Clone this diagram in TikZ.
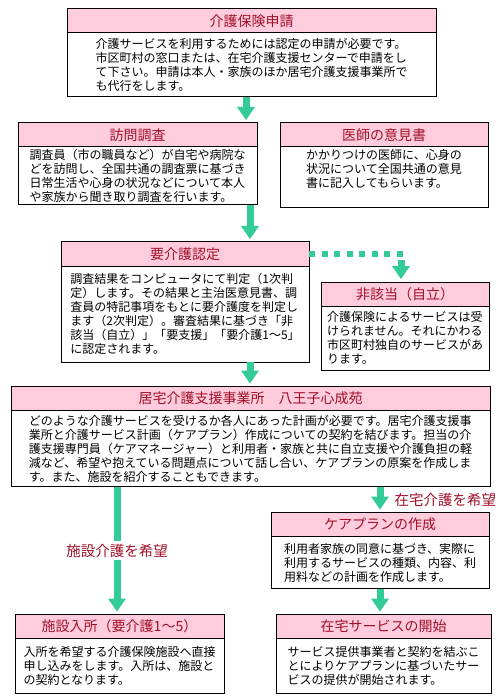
\documentclass[tikz,border=0pt]{standalone}
\usepackage{fontspec}
\setmainfont{Noto Sans CJK JP}
\usetikzlibrary{arrows.meta, positioning}
\definecolor{headpink}{RGB}{255,204,221}
\definecolor{titlered}{RGB}{160,16,40}
\definecolor{flowgreen}{RGB}{51,204,153}
\tikzset{
  boxhead/.style={draw, line width=1pt, fill=headpink, text=titlered,
                  minimum height=24pt, inner sep=0pt, outer sep=0pt,
                  font=\fontsize{14}{16}\selectfont},
  boxbody/.style={draw, line width=1pt, fill=white, align=left,
                  inner sep=2pt, outer sep=0pt,
                  font=\fontsize{12}{14}\selectfont},
  flowarrow/.style={line width=7pt, draw=flowgreen, shorten >=3pt,
                    -{Triangle[width=18pt, length=13pt, line width=0pt]}},
  dotline/.style={line width=6pt, draw=flowgreen, dash pattern=on 6pt off 6.57pt},
  wishlabel/.style={text=titlered, inner sep=0pt, font=\fontsize{14.5}{17}\selectfont},
}

\begin{document}
\begin{tikzpicture}[x=1pt, y=-1pt]

  \fill[white] (0,0) rectangle (500,700);
  \useasboundingbox (0,0) rectangle (500,700);

  % --- Application ---
  \node[boxhead, minimum width=369pt] (hd1) at (251.5,21) {介護保険申請};
  \node[boxbody, minimum width=369pt, minimum height=64pt, below=0pt of hd1]
    (bd1) {介護サービスを利用するためには認定の申請が必要です。\\
           市区町村の窓口または、在宅介護支援センターで申請をし\\
           て下さい。申請は本人・家族のほか居宅介護支援事業所で\\
           も代行をします。};

  % --- Survey and doctor ---
  \node[boxhead, minimum width=239pt] (hd2) at (137.5,135) {訪問調査};
  \node[boxbody, minimum width=239pt, minimum height=58pt, below=0pt of hd2]
    (bd2) {調査員（市の職員など）が自宅や病院な\\
           どを訪問し、全国共通の調査票に基づき\\
           日常生活や心身の状況などについて本人\\
           や家族から聞き取り調査を行います。};
  \node[boxhead, minimum width=208pt] (hd3) at (384,135) {医師の意見書};
  \node[boxbody, minimum width=208pt, minimum height=58pt, below=0pt of hd3]
    (bd3) {かかりつけの医師に、心身の\\
           状況について全国共通の意見\\
           書に記入してもらいます。\\
           \strut};

  % --- Certification ---
  \node[boxhead, minimum width=248pt] (hd4) at (185,254) {要介護認定};
  \node[boxbody, minimum width=248pt, minimum height=96pt, below=0pt of hd4]
    (bd4) {調査結果をコンピュータにて判定（1次判\\
           定）します。その結果と主治医意見書、調\\
           査員の特記事項をもとに要介護度を判定し\\
           ます（2次判定）。審査結果に基づき「非\\
           該当（自立）」「要支援」「要介護1〜5」\\
           に認定されます。};
  \node[boxhead, minimum width=168pt] (hd5) at (405,294) {非該当（自立）};
  \node[boxbody, minimum width=168pt, minimum height=64pt, below=0pt of hd5]
    (bd5) {介護保険によるサービスは受\\
           けられません。それにかわる\\
           市区町村独自のサービスがあ\\
           ります。};

  % --- Care office ---
  \node[boxhead, minimum width=479pt] (hd6) at (250.5,398.5)
    {居宅介護支援事業所　八王子心成苑};
  \node[boxbody, minimum width=479pt, minimum height=76pt, below=0pt of hd6]
    (bd6) {どのような介護サービスを受けるか各人にあった計画が必要です。居宅介護支援事\\
           業所と介護サービス計画（ケアプラン）作成についての契約を結びます。担当の介\\
           護支援専門員（ケアマネージャー）と利用者・家族と共に自立支援や介護負担の軽\\
           減など、希望や抱えている問題点について話し合い、ケアプランの原案を作成しま\\
           す。また、施設を紹介することもできます。};

  % --- Care plan ---
  \node[boxhead, minimum width=218pt] (hd7) at (380,524.5) {ケアプランの作成};
  \node[boxbody, minimum width=218pt, minimum height=52pt, below=0pt of hd7]
    (bd7) {利用者家族の同意に基づき、実際に\\
           利用するサービスの種類、内容、利\\
           用料などの計画を作成します。};

  % --- Outcomes ---
  \node[boxhead, minimum width=209pt] (hd8) at (119.5,626.5) {施設入所（要介護1〜5）};
  \node[boxbody, minimum width=209pt, minimum height=55pt, below=0pt of hd8]
    (bd8) {入所を希望する介護保険施設へ直接\\
           申し込みをします。入所は、施設と\\
           の契約となります。};
  \node[boxhead, minimum width=215pt] (hd9) at (383.5,626.5) {在宅サービスの開始};
  \node[boxbody, minimum width=215pt, minimum height=55pt, below=0pt of hd9]
    (bd9) {サービス提供事業者と契約を結ぶこ\\
           とによりケアプランに基づいたサー\\
           ビスの提供が開始されます。};

  % --- Arrow columns ---
  \coordinate (firstx) at (246,0);
  \coordinate (mainx) at (250,0);
  \coordinate (nonx) at (401,0);
  \coordinate (leftx) at (117,0);
  \coordinate (rightx) at (380,0);

  % --- Flow ---
  \draw[flowarrow] (bd1.south -| firstx) -- (hd2.north -| firstx);
  \draw[flowarrow] (bd2.south -| mainx) -- (hd4.north -| mainx);
  \draw[flowarrow] (bd4.south -| mainx) -- (hd6.north -| mainx);
  \draw[dotline] (hd4.east) -- (hd4.east -| hd5.north);
  \draw[flowarrow] ([yshift=-6pt]hd4.east -| nonx) -- (hd5.north -| nonx);
  \draw[flowarrow] (bd6.south -| leftx) -- (hd8.north -| leftx)
    node[wishlabel, midway, fill=white, inner sep=3pt] {施設介護を希望};
  \draw[flowarrow] (bd6.south -| rightx) -- (hd7.north -| rightx)
    node[wishlabel, midway, right=11pt] {在宅介護を希望};
  \draw[flowarrow] (bd7.south -| rightx) -- (hd9.north -| rightx);

\end{tikzpicture}
\end{document}
